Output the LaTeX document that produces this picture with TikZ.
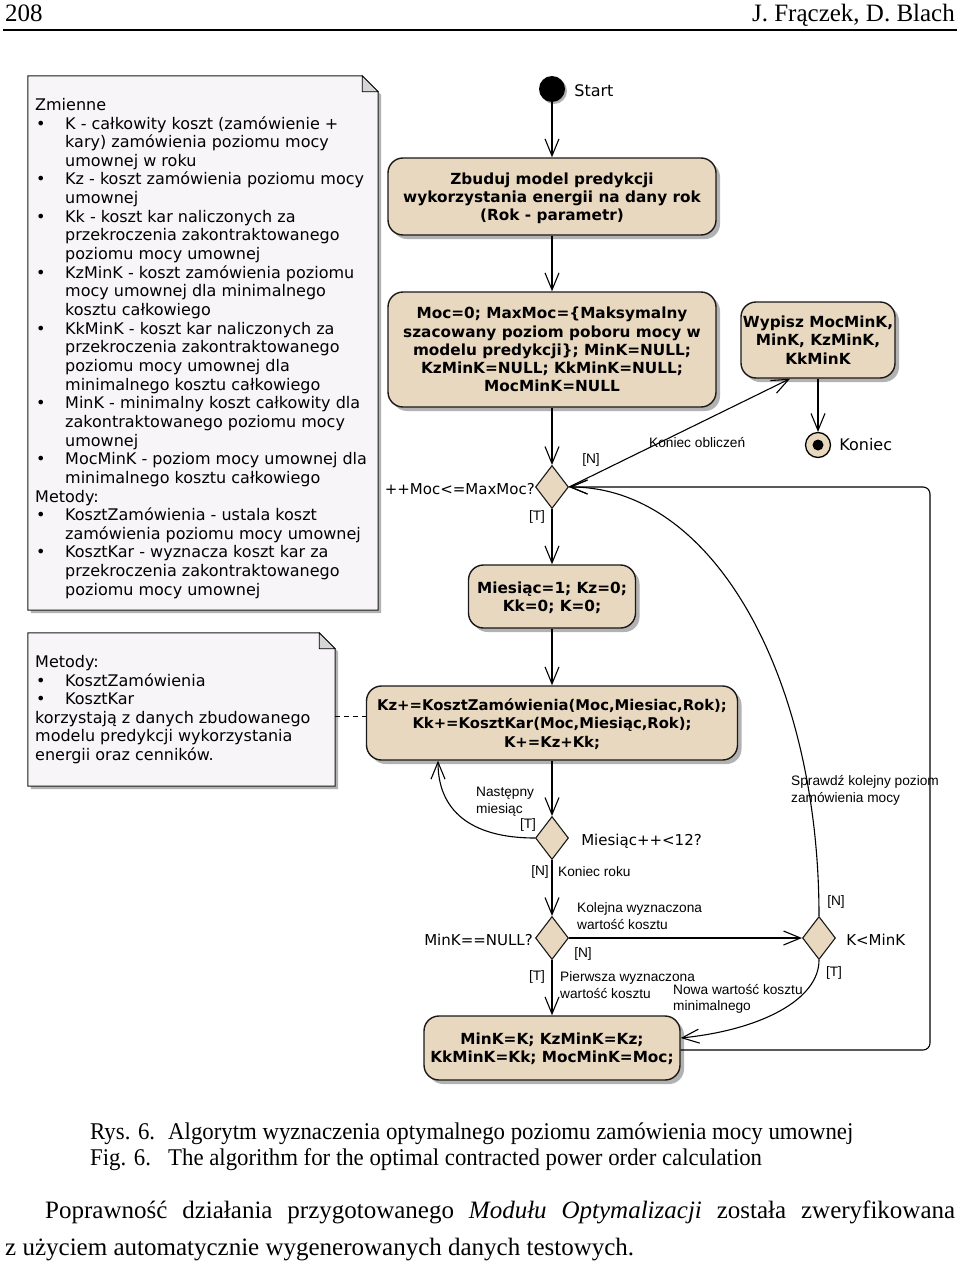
\documentclass[tikz,border=0pt]{standalone}
\usepackage{fontspec}
\setmainfont{Liberation Serif}
\newfontfamily\uifont{DejaVu Sans}
\newfontfamily\lblfont{Liberation Sans}
\newfontfamily\capfont{Liberation Serif}[FakeStretch=0.95]
\usetikzlibrary{positioning, arrows.meta, shapes.geometric, shadows}

\definecolor{boxtan}{RGB}{233,216,192}
\definecolor{notefill}{RGB}{248,245,248}
\definecolor{foldgray}{RGB}{214,214,214}

\newcommand{\nbul}{\makebox[30pt][l]{\hspace*{1pt}\textbullet}}
\newcommand{\nind}{\hspace*{30pt}}

\tikzset{
  action/.style={rectangle, rounded corners=15pt, draw=black!90, line width=1.4pt,
    fill=boxtan, align=center, inner sep=0pt, text depth=0pt,
    font={\uifont\bfseries\fontsize{15.3}{18.3}\selectfont},
    drop shadow={shadow xshift=4pt, shadow yshift=-4pt, fill=black!30, opacity=1}},
  decision/.style={diamond, draw=black!90, line width=1.1pt, fill=boxtan,
    minimum width=33pt, minimum height=43pt, inner sep=0pt},
  lbl/.style={font={\lblfont\fontsize{13.7}{16.5}\selectfont}, inner sep=0pt, align=left},
  cond/.style={font={\uifont\fontsize{15}{18}\selectfont}, inner sep=0pt},
  term/.style={font={\uifont\fontsize{16}{19}\selectfont}, inner sep=0pt},
  notetext/.style={font={\uifont\fontsize{16}{18.65}\selectfont}, inner sep=0pt,
    align=left, anchor=north west},
  noteline/.style={draw=black!90, line width=1pt, fill=notefill,
    drop shadow={shadow xshift=3pt, shadow yshift=-3pt, fill=black!30, opacity=1}},
  papertext/.style={inner sep=0pt, anchor=base west, font=\capfont\fontsize{24}{27}\selectfont},
}

\begin{document}
\begin{tikzpicture}[x=1pt, y=-1pt, flow/.style={-{Straight Barb[length=17pt, width=14pt]}, line width=1.1pt}]
\fill[white] (0,0) rectangle (960,1263);
\useasboundingbox (0,0) rectangle (960,1263);

% page head
\node[inner sep=0pt, anchor=base west, font=\fontsize{25}{30}\selectfont] (pagenum) at (5,22) {208};
\node[inner sep=0pt, anchor=base east, font=\fontsize{25}{30}\selectfont] (authors) at (955,22) {J. Frączek, D. Blach};
\draw[line width=1.5pt] (3,30) -- (957,30);

% notes
\node[minimum width=350pt, minimum height=534pt, inner sep=0pt] (vars) at (203,343) {};
\draw[noteline] (vars.north west) -- ([xshift=-16pt]vars.north east) -- ([yshift=-16pt]vars.north east)
  -- (vars.south east) -- (vars.south west) -- cycle;
\draw[fill=foldgray, line width=0.8pt] ([xshift=-16pt]vars.north east) -- ([xshift=-16pt, yshift=-16pt]vars.north east)
  -- ([yshift=-16pt]vars.north east) -- cycle;
\node[notetext] (varstext) at (35,98) {Zmienne\\
  \nbul K - całkowity koszt (zamówienie +\\
  \nind kary) zamówienia poziomu mocy\\
  \nind umownej w roku\\
  \nbul Kz - koszt zamówienia poziomu mocy\\
  \nind umownej\\
  \nbul Kk - koszt kar naliczonych za\\
  \nind przekroczenia zakontraktowanego\\
  \nind poziomu mocy umownej\\
  \nbul KzMinK - koszt zamówienia poziomu\\
  \nind mocy umownej dla minimalnego\\
  \nind kosztu całkowiego\\
  \nbul KkMinK - koszt kar naliczonych za\\
  \nind przekroczenia zakontraktowanego\\
  \nind poziomu mocy umownej dla\\
  \nind minimalnego kosztu całkowiego\\
  \nbul MinK - minimalny koszt całkowity dla\\
  \nind zakontraktowanego poziomu mocy\\
  \nind umownej\\
  \nbul MocMinK - poziom mocy umownej dla\\
  \nind minimalnego kosztu całkowiego\\
  Metody:\\
  \nbul KosztZamówienia - ustala koszt\\
  \nind zamówienia poziomu mocy umownej\\
  \nbul KosztKar - wyznacza koszt kar za\\
  \nind przekroczenia zakontraktowanego\\
  \nind poziomu mocy umownej};

\node[minimum width=307pt, minimum height=153pt, inner sep=0pt] (metody) at (181.5,709.5) {};
\draw[noteline] (metody.north west) -- ([xshift=-16pt]metody.north east) -- ([yshift=-16pt]metody.north east)
  -- (metody.south east) -- (metody.south west) -- cycle;
\draw[fill=foldgray, line width=0.8pt] ([xshift=-16pt]metody.north east) -- ([xshift=-16pt, yshift=-16pt]metody.north east)
  -- ([yshift=-16pt]metody.north east) -- cycle;
\node[notetext] (metodytext) at (35,655) {Metody:\\
  \nbul KosztZamówienia\\
  \nbul KosztKar\\
  korzystają z danych zbudowanego\\
  modelu predykcji wykorzystania\\
  energii oraz cenników.};

% activity flow
\node[circle, fill=black, minimum size=26pt, inner sep=0pt,
  drop shadow={shadow xshift=2pt, shadow yshift=-2pt, fill=black!30, opacity=1}] (start) at (552,89) {};
\node[term, right=9pt of start, yshift=-2pt] (startlbl) {Start};
\node[action, minimum width=328pt, minimum height=77pt] (build) at (552,196.5)
  {Zbuduj model predykcji\\wykorzystania energii na dany rok\\(Rok - parametr)};
\node[action, minimum width=328pt, minimum height=115pt] (init) at (552,349.5)
  {Moc=0; MaxMoc=\{Maksymalny\\szacowany poziom poboru mocy w\\modelu predykcji\}; MinK=NULL;\\KzMinK=NULL; KkMinK=NULL;\\MocMinK=NULL};
\node[action, minimum width=154pt, minimum height=76pt] (print) at (818,340)
  {Wypisz MocMinK,\\MinK, KzMinK,\\KkMinK};
\node[circle, draw=black, line width=1.3pt, fill=boxtan, minimum size=25pt, inner sep=0pt] (end) at (818,445) {};
\node[circle, fill=black, minimum size=11pt, inner sep=0pt] (enddot) at (end) {};
\node[term, right=8pt of end] (endlbl) {Koniec};

\node[decision] (moc) at (552,487) {};
\node[cond, left=0pt of moc, yshift=-2pt] (moclbl) {++Moc<=MaxMoc?};
\node[action, minimum width=167pt, minimum height=63pt] (month) at (552,596.5) {Miesiąc=1; Kz=0;\\Kk=0; K=0;};
\node[action, minimum width=371pt, minimum height=74pt, font={\uifont\bfseries\fontsize{14.8}{18.5}\selectfont}] (cost) at (552,723)
  {Kz+=KosztZamówienia(Moc,Miesiac,Rok);\\Kk+=KosztKar(Moc,Miesiąc,Rok);\\K+=Kz+Kk;};
\node[decision] (mnext) at (552,838) {};
\node[cond, right=12pt of mnext, yshift=-3pt] (mnextlbl) {Miesiąc++<12?};
\node[decision] (isnull) at (552,938) {};
\node[cond, left=2pt of isnull, yshift=-2pt] (isnulllbl) {MinK==NULL?};
\node[decision] (less) at (819,938) {};
\node[cond, right=10pt of less, yshift=-2pt] (lesslbl) {K<MinK};
\node[action, minimum width=256pt, minimum height=64pt] (best) at (552,1048) {MinK=K; KzMinK=Kz;\\KkMinK=Kk; MocMinK=Moc;};
\coordinate (loopcorner) at (930,487);

\draw[flow] (start) -- (build);
\draw[flow] (build) -- (init);
\draw[flow] (init) -- (moc);
\draw[flow] (moc.east) -- ([xshift=-28pt]print.south);
\draw[flow] (print) -- (end);
\draw[flow] (moc) -- (month);
\draw[flow] (month) -- (cost);
\draw[flow] (cost) -- (mnext);
\draw[flow] (mnext.west) .. controls (470,838) and (438,810) .. ([xshift=-114pt]cost.south);
\draw[flow] (mnext) -- (isnull);
\draw[flow] (isnull) -- (best);
\draw[flow] (isnull) -- (less);
\draw[flow] (less.south) .. controls (819,1000) and (760,1030) .. ([yshift=10pt]best.east);
\draw[flow] (less.north) .. controls (819,680) and (715,487) .. (moc.east);
\draw[flow, rounded corners=7pt] ([yshift=-2pt]best.east) -| (loopcorner) -- (moc.east);
\draw[dash pattern=on 5pt off 4pt, line width=1pt] (metody.east |- 0,716) -- (cost.west |- 0,716);

% guards and notes on the flows
\node[lbl, anchor=west] (lblend) at (649,443) {Koniec obliczeń};
\node[lbl] (lblmocn) at (591,460) {[N]};
\node[lbl] (lblmoct) at (537,517) {[T]};
\node[lbl, anchor=west] (lblnext) at (476,801.5) {Następny\\miesiąc};
\node[lbl] (lblnextt) at (528,825) {[T]};
\node[lbl] (lblyearn) at (540,872) {[N]};
\node[lbl, anchor=west] (lblyear) at (558,872) {Koniec roku};
\node[lbl, anchor=west] (lblnextk) at (577,916) {Kolejna wyznaczona\\wartość kosztu};
\node[lbl] (lblnulln) at (583,954) {[N]};
\node[lbl] (lblnullt) at (537,977) {[T]};
\node[lbl, anchor=west] (lblfirst) at (560,985) {Pierwsza wyznaczona\\wartość kosztu};
\node[lbl] (lbllessn) at (836,902) {[N]};
\node[lbl] (lbllesst) at (834,973) {[T]};
\node[lbl, anchor=west] (lblnew) at (673,999) {Nowa wartość kosztu\\minimalnego};
\node[lbl, anchor=west] (lblcheck) at (791,790.5) {Sprawdź kolejny poziom\\zamówienia mocy};

% caption and text
\node[papertext] (rys) at (90,1139) {Rys. 6.};
\node[papertext] (rystext) at (168,1139) {Algorytm wyznaczenia optymalnego poziomu zamówienia mocy umownej};
\node[papertext] (fig) at (90,1165) {Fig. 6.};
\node[papertext] (figtext) at (168,1165) {The algorithm for the optimal contracted power order calculation};
\node[papertext, font=\fontsize{25}{38}\selectfont] (para1) at (45,1218)
  {\makebox[910pt][s]{Poprawność działania przygotowanego \textit{Modułu Optymalizacji} została zweryfikowana}};
\node[papertext, font=\fontsize{25}{38}\selectfont] (para2) at (5,1255) {z użyciem automatycznie wygenerowanych danych testowych.};
\end{tikzpicture}
\end{document}
